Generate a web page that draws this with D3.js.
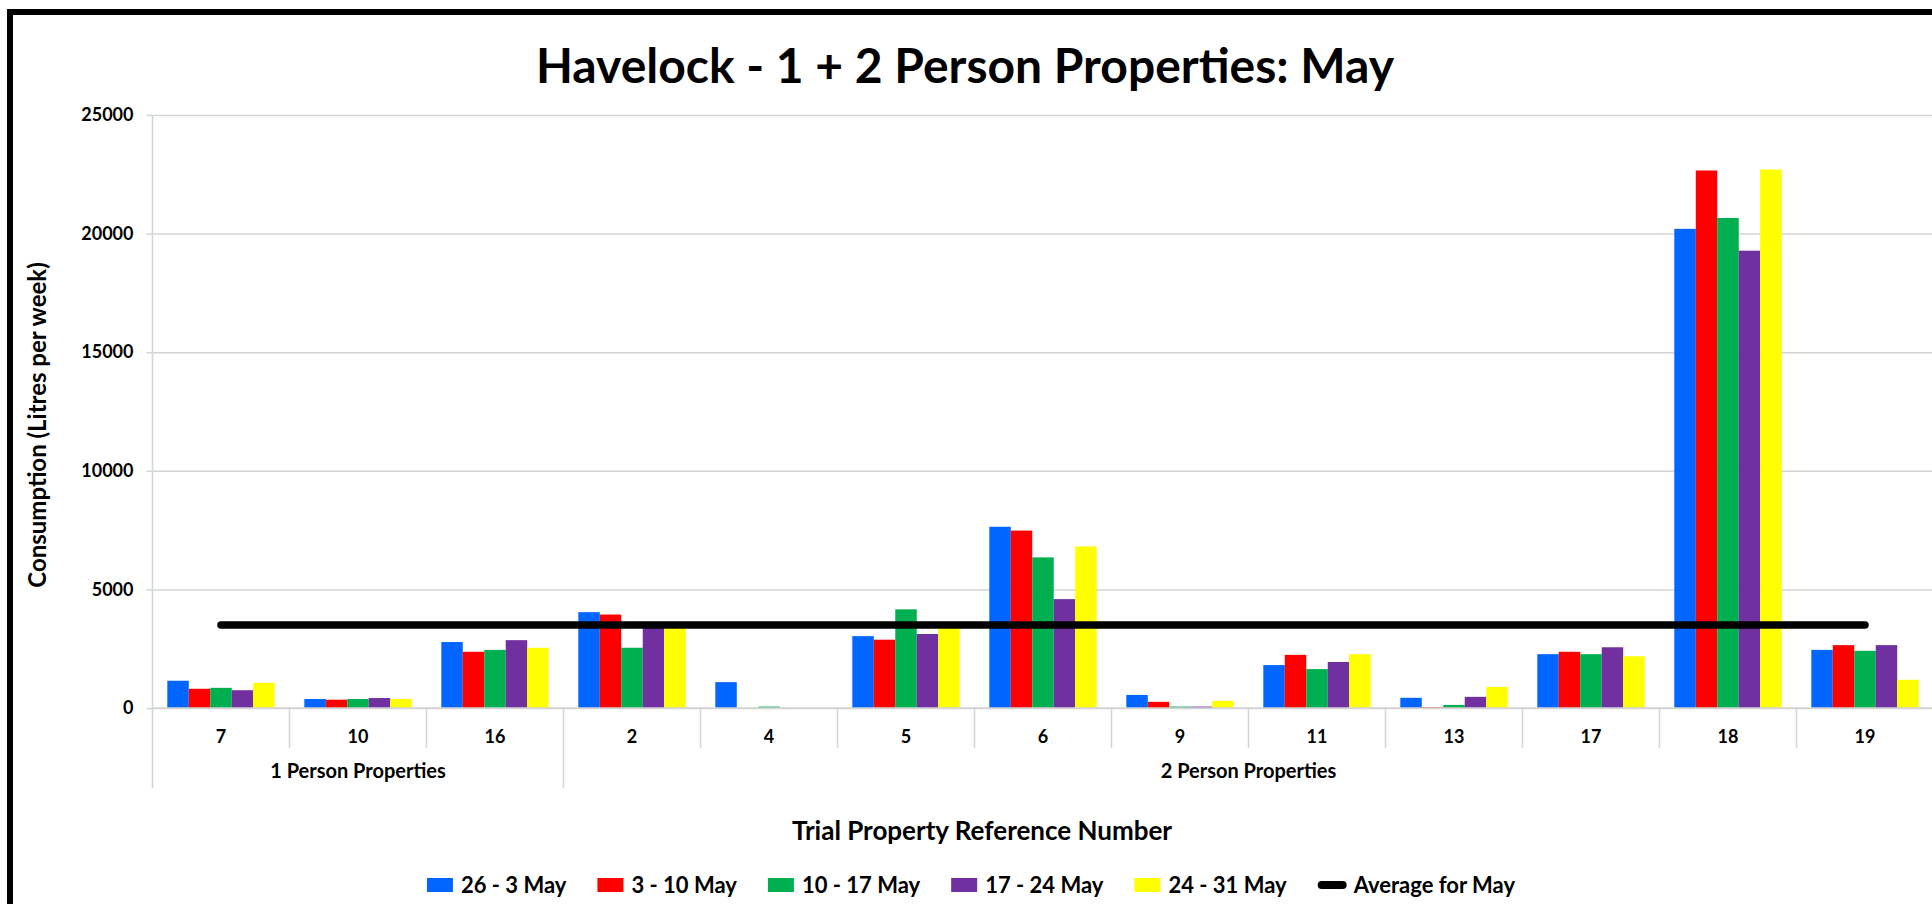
<!DOCTYPE html>
<html>
<head>
<meta charset="utf-8">
<script src="https://d3js.org/d3.v7.min.js"></script>
<style>
body { margin: 0; background: #fff; }
text { font-family: Lato, "Open Sans", sans-serif; font-weight: 700; fill: #000; }
</style>
</head>
<body>
<svg id="chart" width="1932" height="904"></svg>
<script>
// data
var categories = ["7", "10", "16", "2", "4", "5", "6", "9", "11", "13", "17", "18", "19"];
var groupLabels = ["1 Person Properties", "2 Person Properties"];
var groupCounts = [3, 10];
var seriesNames = ["26 - 3 May", "3 - 10 May", "10 - 17 May", "17 - 24 May", "24 - 31 May"];
var week1 = [1150, 380, 2780, 4040, 1090, 3030, 7640, 550, 1810, 430, 2270, 20200, 2450];
var week2 = [810, 350, 2370, 3940, 0, 2880, 7480, 260, 2240, 40, 2370, 22660, 2650];
var week3 = [850, 380, 2450, 2540, 60, 4160, 6350, 60, 1640, 130, 2270, 20660, 2410];
var week4 = [750, 420, 2860, 3500, 0, 3120, 4590, 60, 1940, 470, 2560, 19280, 2650];
var week5 = [1060, 380, 2540, 3400, 0, 3420, 6810, 300, 2270, 890, 2180, 22700, 1190];
var averageName = "Average for May";
var averageValues = [3500, 3500, 3500, 3500, 3500, 3500, 3500, 3500, 3500, 3500, 3500, 3500, 3500];
var yTicks = [0, 5000, 10000, 15000, 20000, 25000];

var couleurs = ["#0066ff", "#ff0000", "#00b050", "#7030a0", "#ffff00"];
var gris = "#d4d4d4";

var largeur = 1932;
var hauteur = 904;
var marge = {haut: 115, droite: -1.5, bas: 196, gauche: 152.5};

var svg = d3.select('#chart');

var xScale = d3.scaleBand().domain(categories).range([marge.gauche, largeur - marge.droite]);
var xSerie = d3.scaleBand().domain(seriesNames).range([0, xScale.bandwidth()]).paddingOuter(0.69);
var yScale = d3.scaleLinear().domain([0, 25000]).range([hauteur - marge.bas, marge.haut]);

svg.append("rect")
    .attr("width", largeur).attr("height", hauteur)
    .attr("fill", "#fff");

// gridlines
svg.append("g")
    .attr("transform", `translate(${marge.gauche},0)`)
    .call(d3.axisLeft(yScale).tickValues(yTicks).tickSize(-(largeur - marge.droite - marge.gauche)).tickFormat(""))
    .call(g => g.select(".domain").remove())
    .selectAll("line")
    .attr("stroke", gris)
    .attr("stroke-width", 1.5);

// y axis
var yAxis = svg.append("g")
    .attr("transform", `translate(${marge.gauche},0)`)
    .call(d3.axisLeft(yScale).tickValues(yTicks).tickSize(6).tickPadding(13).tickFormat(d3.format("d")));
yAxis.select(".domain").remove();
yAxis.selectAll("line").attr("stroke", gris).attr("stroke-width", 1.5);
yAxis.selectAll("text").style("font-size", "18px").attr("fill", "#000");

// bars
var series = seriesNames.map(function(nom, i) {
    return {nom: nom, valeurs: [week1, week2, week3, week4, week5][i]};
});

svg.append("g")
    .selectAll("g")
    .data(series)
    .join("g")
    .attr("fill", function(d, i) { return couleurs[i]; })
    .selectAll("rect")
    .data(function(d) {
        return d.valeurs.map(function(v, j) { return {cat: categories[j], nom: d.nom, v: v}; });
    })
    .join("rect")
    .attr("x", function(d) { return xScale(d.cat) + xSerie(d.nom); })
    .attr("y", function(d) { return yScale(d.v); })
    .attr("width", xSerie.bandwidth())
    .attr("height", function(d) { return yScale(0) - yScale(d.v); });

// category axis
var basY = yScale(0);
svg.append("line")
    .attr("x1", marge.gauche).attr("x2", largeur - marge.droite)
    .attr("y1", basY).attr("y2", basY)
    .attr("stroke", gris).attr("stroke-width", 1.5);
svg.append("line")
    .attr("x1", marge.gauche).attr("x2", marge.gauche)
    .attr("y1", yScale(25000)).attr("y2", basY + 80)
    .attr("stroke", gris).attr("stroke-width", 1.5);

var xAxis = svg.append("g")
    .attr("transform", `translate(0,${basY})`)
    .call(d3.axisBottom(xScale).tickSize(0).tickPadding(0));
xAxis.select(".domain").remove();
xAxis.selectAll("text")
    .attr("y", 29)
    .attr("dy", "0.36em")
    .style("font-size", "18px")
    .attr("fill", "#000");

var debuts = [];
var k = 0;
groupCounts.forEach(function(n) { debuts.push(k); k += n; });

categories.forEach(function(c, j) {
    if (j == 0) return;
    var long = debuts.indexOf(j) >= 0;
    svg.append("line")
        .attr("x1", xScale(c)).attr("x2", xScale(c))
        .attr("y1", basY).attr("y2", basY + (long ? 80 : 40))
        .attr("stroke", gris).attr("stroke-width", 1.5);
});

groupLabels.forEach(function(lab, i) {
    var x1 = xScale(categories[debuts[i]]);
    var x2 = xScale(categories[debuts[i] + groupCounts[i] - 1]) + xScale.bandwidth();
    svg.append("text")
        .attr("x", (x1 + x2) / 2)
        .attr("y", basY + 70)
        .style("text-anchor", "middle")
        .style("font-size", "20px")
        .text(lab);
});

// average line
var ligne = d3.line()
    .x(function(d) { return xScale(d.cat) + xScale.bandwidth() / 2; })
    .y(function(d) { return yScale(d.v); });

svg.append("path")
    .datum(averageValues.map(function(v, j) { return {cat: categories[j], v: v}; }))
    .attr("d", ligne)
    .attr("fill", "none")
    .attr("stroke", "#000")
    .attr("stroke-width", 7.5)
    .attr("stroke-linecap", "round");

// titles
svg.append("text")
    .attr("x", 965).attr("y", 83)
    .style("text-anchor", "middle")
    .style("font-size", "48px")
    .text("Havelock - 1 + 2 Person Properties: May");

svg.append("text")
    .attr("x", 982).attr("y", 840)
    .style("text-anchor", "middle")
    .style("font-size", "26px")
    .text("Trial  Property Reference Number");

svg.append("text")
    .attr("transform", "translate(46,425) rotate(-90)")
    .style("text-anchor", "middle")
    .style("font-size", "24px")
    .text("Consumption (Litres per week)");

// legend
var legende = svg.append("g");
var items = seriesNames.concat([averageName]);
var curseur = 0;
items.forEach(function(nom, i) {
    var g = legende.append("g").attr("transform", `translate(${curseur},0)`);
    if (i < seriesNames.length) {
        g.append("rect")
            .attr("x", 0).attr("y", -7)
            .attr("width", 26).attr("height", 14)
            .attr("fill", couleurs[i]);
    } else {
        g.append("line")
            .attr("x1", 4).attr("x2", 25)
            .attr("y1", 0).attr("y2", 0)
            .attr("stroke", "#000")
            .attr("stroke-width", 8)
            .attr("stroke-linecap", "round");
    }
    var t = g.append("text")
        .attr("x", i < seriesNames.length ? 34 : 36)
        .attr("dy", "0.36em")
        .style("font-size", "22px")
        .text(nom);
    curseur += 34 + t.node().getComputedTextLength() + 31;
});
curseur -= 31;
legende.attr("transform", `translate(${970 - curseur / 2},885)`);

// frame
svg.append("rect")
    .attr("x", 10).attr("y", 12)
    .attr("width", 2000).attr("height", 1000)
    .attr("fill", "none")
    .attr("stroke", "#000")
    .attr("stroke-width", 6);
</script>
</body>
</html>
